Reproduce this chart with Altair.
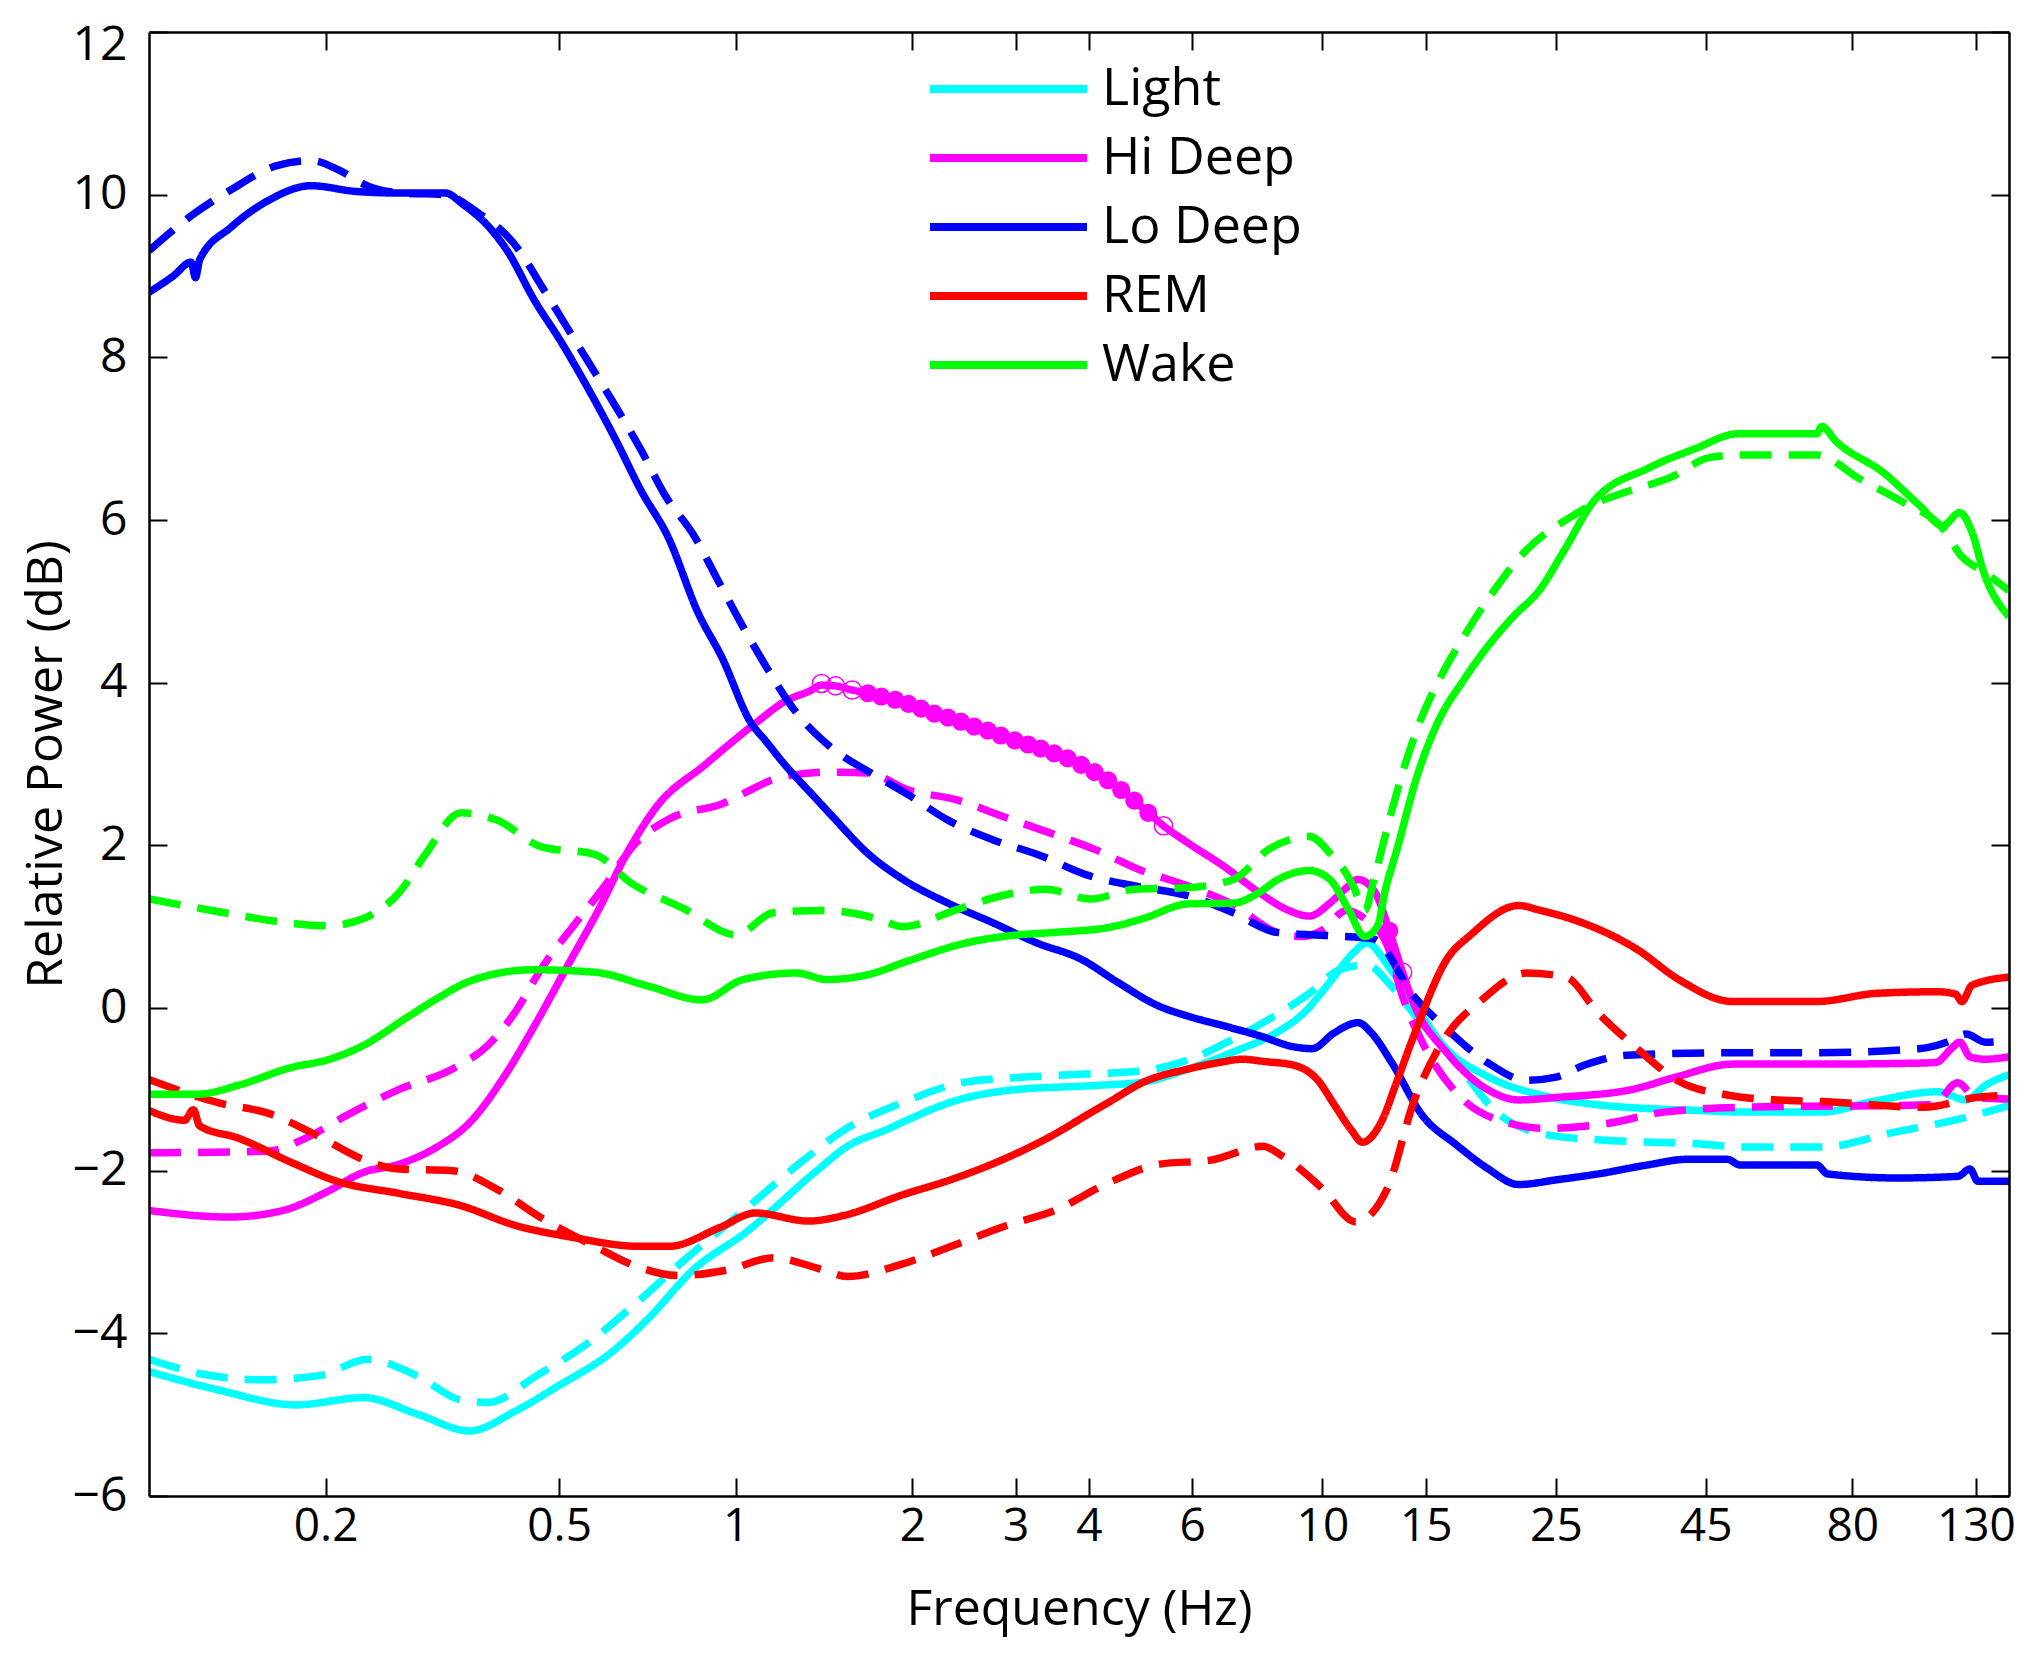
import altair as alt
import pandas as pd

stages = ["Light", "Hi Deep", "Lo Deep", "REM", "Wake"]
colors = ["#00ffff", "#ff00ff", "#0000ff", "#ff0000", "#00ff00"]
x_ticks = [0.2, 0.5, 1, 2, 3, 4, 6, 10, 15, 25, 45, 80, 130]
y_ticks = [-6, -4, -2, 0, 2, 4, 6, 8, 10, 12]

light_solid_f = [0.1, 0.132, 0.178, 0.232, 0.286, 0.352, 0.42, 0.5, 0.615, 0.709, 0.846, 1.04, 1.38, 1.55, 1.8, 2.0, 2.3, 2.94, 4.17, 4.96, 5.9, 7.05, 8.36, 9.3, 10.3, 11.3, 11.9, 13.0, 14.3, 16.3, 19.1, 24.2, 29.5, 43.6, 52.8, 71, 86.6, 112, 125, 135, 148]
light_solid_v = [-4.47, -4.70, -4.88, -4.79, -4.99, -5.2, -4.96, -4.64, -4.23, -3.82, -3.22, -2.76, -1.99, -1.70, -1.5, -1.35, -1.17, -1.01, -0.95, -0.91, -0.75, -0.54, -0.3, -0.06, 0.32, 0.68, 0.8, 0.5, 0.06, -0.51, -0.84, -1.09, -1.19, -1.26, -1.28, -1.28, -1.15, -1.03, -1.13, -0.95, -0.82]

light_dashed_f = [0.1, 0.123, 0.155, 0.195, 0.236, 0.286, 0.34, 0.378, 0.458, 0.565, 0.674, 0.817, 1.04, 1.29, 1.53, 1.93, 2.47, 3.5, 4.96, 5.9, 7.05, 8.1, 9.5, 10.7, 11.9, 13.0, 14.3, 16.9, 19.8, 24.2, 29.5, 43.6, 52.8, 71, 94, 121, 148]
light_dashed_v = [-4.32, -4.5, -4.57, -4.52, -4.32, -4.52, -4.82, -4.85, -4.52, -4.1, -3.64, -3.1, -2.47, -1.9, -1.5, -1.16, -0.91, -0.83, -0.77, -0.64, -0.38, -0.14, 0.18, 0.47, 0.53, 0.3, -0.07, -0.67, -1.28, -1.56, -1.62, -1.67, -1.71, -1.71, -1.53, -1.37, -1.2]

hideep_solid_f = [0.1, 0.137, 0.169, 0.201, 0.232, 0.267, 0.306, 0.353, 0.405, 0.458, 0.518, 0.587, 0.65, 0.734, 0.89, 0.993, 1.08, 1.22, 1.34, 1.4, 1.48, 1.58, 1.68, 1.9, 2.18, 2.55, 2.99, 3.5, 4.02, 4.54, 5.05, 5.36, 5.9, 6.8, 7.8, 8.7, 9.5, 10.3, 11.0, 11.5, 12.3, 13.0, 13.7, 14.3, 16.3, 19.1, 21.6, 25, 33.8, 40, 50, 70, 100, 111, 118, 122, 127, 135, 148]
hideep_solid_v = [-2.49, -2.57, -2.49, -2.26, -2.02, -1.92, -1.73, -1.4, -0.82, -0.17, 0.53, 1.24, 1.88, 2.48, 3.0, 3.29, 3.5, 3.78, 3.9, 3.97, 3.96, 3.91, 3.87, 3.77, 3.62, 3.46, 3.29, 3.13, 2.93, 2.68, 2.4, 2.24, 2.03, 1.74, 1.42, 1.21, 1.13, 1.29, 1.48, 1.58, 1.42, 0.95, 0.44, 0.06, -0.55, -1.0, -1.13, -1.1, -1.0, -0.85, -0.69, -0.69, -0.68, -0.67, -0.5, -0.42, -0.6, -0.63, -0.6]

hideep_dashed_f = [0.1, 0.159, 0.185, 0.216, 0.267, 0.329, 0.378, 0.42, 0.466, 0.537, 0.595, 0.674, 0.773, 0.939, 1.2, 1.45, 1.68, 1.97, 2.38, 2.84, 3.44, 4.09, 4.88, 5.9, 7.05, 8.36, 9.3, 10.0, 11.0, 11.8, 12.9, 13.7, 14.8, 16.9, 19.8, 24.2, 30.6, 38.2, 52.8, 110, 121, 130, 148]
hideep_dashed_v = [-1.78, -1.76, -1.6, -1.33, -1.0, -0.75, -0.46, -0.06, 0.48, 1.07, 1.48, 2.02, 2.33, 2.5, 2.84, 2.9, 2.89, 2.68, 2.56, 2.36, 2.15, 1.95, 1.7, 1.5, 1.27, 0.93, 0.88, 0.96, 1.2, 1.1, 0.77, 0.14, -0.42, -1.04, -1.37, -1.48, -1.42, -1.28, -1.22, -1.19, -0.92, -1.1, -1.12]

lodeep_solid_f = [0.1, 0.11, 0.118, 0.12, 0.122, 0.138, 0.159, 0.189, 0.225, 0.268, 0.32, 0.343, 0.38, 0.408, 0.454, 0.504, 0.56, 0.622, 0.69, 0.767, 0.864, 0.946, 1.063, 1.12, 1.21, 1.36, 1.46, 1.68, 1.93, 2.3, 2.74, 3.26, 3.88, 4.47, 5.24, 5.9, 6.8, 7.8, 8.98, 9.6, 10.5, 11.5, 12.1, 13.1, 14.8, 16.9, 19.1, 21.6, 25.2, 29.5, 35.8, 41.9, 49, 51.5, 69.6, 72.6, 95.7, 121, 127, 131, 148]
lodeep_solid_v = [8.8, 9.0, 9.17, 8.98, 9.2, 9.6, 9.92, 10.11, 10.04, 10.02, 10.02, 9.88, 9.6, 9.31, 8.7, 8.19, 7.62, 7.01, 6.36, 5.79, 4.85, 4.32, 3.5, 3.3, 3.0, 2.6, 2.36, 1.9, 1.58, 1.29, 1.05, 0.8, 0.6, 0.32, 0.03, -0.1, -0.22, -0.34, -0.48, -0.5, -0.3, -0.18, -0.3, -0.66, -1.32, -1.68, -1.97, -2.17, -2.11, -2.04, -1.93, -1.86, -1.86, -1.93, -1.93, -2.04, -2.09, -2.07, -1.98, -2.13, -2.13]

lodeep_dashed_f = [0.1, 0.118, 0.138, 0.164, 0.189, 0.211, 0.237, 0.27, 0.32, 0.36, 0.423, 0.47, 0.53, 0.6, 0.631, 0.691, 0.757, 0.852, 0.934, 1.023, 1.12, 1.26, 1.45, 1.7, 1.97, 2.3, 2.74, 3.32, 3.95, 4.79, 5.9, 7.05, 8.36, 10.2, 12.2, 14.3, 16.3, 19.1, 22.3, 25, 28, 33, 50, 70, 104, 118, 125, 135, 148]
lodeep_dashed_v = [9.31, 9.74, 10.06, 10.35, 10.42, 10.3, 10.1, 10.02, 10.0, 9.8, 9.36, 8.84, 8.23, 7.6, 7.34, 6.85, 6.31, 5.79, 5.25, 4.72, 4.23, 3.66, 3.21, 2.89, 2.62, 2.31, 2.07, 1.87, 1.64, 1.5, 1.38, 1.17, 0.93, 0.89, 0.85, 0.15, -0.26, -0.67, -0.89, -0.85, -0.7, -0.58, -0.55, -0.55, -0.5, -0.4, -0.32, -0.42, -0.4]

rem_solid_f = [0.1, 0.115, 0.119, 0.122, 0.142, 0.175, 0.209, 0.267, 0.34, 0.42, 0.527, 0.684, 0.77, 0.939, 1.08, 1.33, 1.53, 1.92, 2.35, 2.88, 3.5, 4.0, 4.32, 4.96, 5.9, 6.67, 7.3, 8.0, 8.9, 9.8, 10.5, 11.2, 11.7, 12.6, 13.4, 14.3, 16.3, 17.9, 21.6, 23.5, 26.7, 34.4, 40.5, 50, 69.6, 88, 112, 120, 123, 128, 148]
rem_solid_v = [-1.26, -1.38, -1.25, -1.45, -1.6, -1.9, -2.13, -2.28, -2.43, -2.67, -2.82, -2.93, -2.93, -2.7, -2.52, -2.62, -2.55, -2.3, -2.1, -1.85, -1.55, -1.3, -1.16, -0.91, -0.75, -0.67, -0.63, -0.66, -0.7, -0.88, -1.2, -1.5, -1.65, -1.4, -0.9, -0.35, 0.6, 0.9, 1.26, 1.2, 1.09, 0.72, 0.35, 0.08, 0.08, 0.18, 0.2, 0.17, 0.08, 0.28, 0.38]

rem_dashed_f = [0.1, 0.132, 0.159, 0.195, 0.228, 0.267, 0.329, 0.392, 0.466, 0.575, 0.674, 0.8, 0.97, 1.16, 1.38, 1.55, 1.92, 2.35, 2.88, 3.52, 4.32, 5.28, 6.46, 7.93, 8.5, 10.0, 11.4, 12.9, 14.3, 16.0, 18.7, 22.3, 26, 29.5, 34.4, 40.5, 49, 59.5, 71, 106, 130, 148]
rem_dashed_v = [-0.88, -1.17, -1.29, -1.58, -1.84, -1.98, -2.0, -2.23, -2.58, -2.93, -3.17, -3.29, -3.22, -3.07, -3.2, -3.3, -3.15, -2.92, -2.68, -2.48, -2.15, -1.92, -1.87, -1.7, -1.81, -2.22, -2.63, -2.22, -1.16, -0.42, 0.1, 0.43, 0.38, -0.06, -0.5, -0.9, -1.07, -1.13, -1.15, -1.22, -1.1, -1.07]

wake_solid_f = [0.1, 0.121, 0.142, 0.175, 0.201, 0.232, 0.276, 0.312, 0.352, 0.451, 0.575, 0.709, 0.876, 1.03, 1.27, 1.43, 1.68, 1.97, 2.47, 2.94, 3.5, 4.32, 4.95, 5.9, 7.05, 7.8, 8.4, 9.5, 10.3, 11.1, 11.8, 12.4, 12.8, 13.4, 14.5, 15.7, 17.4, 19.3, 21.2, 23.4, 25.8, 29, 36, 43.3, 51, 69.6, 71, 75, 90.5, 104.5, 114, 122, 128, 134, 148]
wake_solid_v = [-1.06, -1.06, -0.95, -0.73, -0.64, -0.46, -0.11, 0.13, 0.33, 0.47, 0.44, 0.27, 0.1, 0.35, 0.43, 0.35, 0.41, 0.58, 0.8, 0.89, 0.93, 0.99, 1.1, 1.28, 1.29, 1.42, 1.58, 1.69, 1.58, 1.2, 0.88, 1.0, 1.45, 1.95, 2.85, 3.5, 4.03, 4.48, 4.82, 5.13, 5.62, 6.23, 6.64, 6.88, 7.06, 7.06, 7.15, 6.97, 6.58, 6.17, 5.93, 6.09, 5.85, 5.36, 4.81]

wake_dashed_f = [0.1, 0.13, 0.163, 0.201, 0.232, 0.267, 0.296, 0.34, 0.392, 0.467, 0.575, 0.662, 0.817, 1.0, 1.16, 1.41, 1.74, 1.93, 2.38, 2.84, 3.38, 4.02, 4.79, 5.9, 7.05, 8.1, 9.5, 10.5, 10.9, 11.3, 11.8, 12.3, 13.1, 13.8, 14.7, 15.9, 17.4, 19.6, 22.2, 26.4, 28.5, 32.8, 39.4, 45.8, 52, 69.6, 82.6, 97.6, 114, 123, 135, 148]
wake_dashed_v = [1.34, 1.19, 1.07, 1.01, 1.1, 1.42, 1.89, 2.4, 2.31, 1.98, 1.89, 1.54, 1.22, 0.9, 1.17, 1.2, 1.1, 1.0, 1.21, 1.38, 1.46, 1.34, 1.46, 1.48, 1.58, 1.95, 2.11, 1.83, 1.69, 1.49, 1.2, 1.64, 2.4, 2.97, 3.54, 4.07, 4.56, 5.13, 5.62, 6.03, 6.17, 6.34, 6.53, 6.77, 6.8, 6.8, 6.5, 6.22, 5.9, 5.55, 5.35, 5.13]

# significance markers on the Hi Deep (solid) curve
hd_sig_f = [1.68, 1.77, 1.87, 1.97, 2.07, 2.18, 2.30, 2.42, 2.55, 2.69, 2.83, 2.99, 3.15, 3.31, 3.49, 3.68, 3.88, 4.09, 4.31, 4.54, 4.78, 5.05, 13.0]
hd_sig_v = [3.87, 3.83, 3.79, 3.74, 3.68, 3.62, 3.57, 3.52, 3.46, 3.41, 3.35, 3.29, 3.24, 3.19, 3.13, 3.07, 2.99, 2.9, 2.8, 2.68, 2.55, 2.4, 0.95]
hd_open_f = [1.40, 1.48, 1.58, 5.36, 13.7]
hd_open_v = [3.99, 3.96, 3.91, 2.24, 0.44]

series = [
    ("Light", "solid", light_solid_f, light_solid_v),
    ("Light", "dashed", light_dashed_f, light_dashed_v),
    ("Hi Deep", "solid", hideep_solid_f, hideep_solid_v),
    ("Hi Deep", "dashed", hideep_dashed_f, hideep_dashed_v),
    ("Lo Deep", "solid", lodeep_solid_f, lodeep_solid_v),
    ("Lo Deep", "dashed", lodeep_dashed_f, lodeep_dashed_v),
    ("REM", "solid", rem_solid_f, rem_solid_v),
    ("REM", "dashed", rem_dashed_f, rem_dashed_v),
    ("Wake", "solid", wake_solid_f, wake_solid_v),
    ("Wake", "dashed", wake_dashed_f, wake_dashed_v),
]
rows = []
for stage, cond, fs, vs in series:
    for i, (f, v) in enumerate(zip(fs, vs)):
        rows.append({"stage": stage, "cond": cond, "series": stage + "|" + cond, "f": f, "v": v, "i": i})
df = pd.DataFrame(rows)
sig_df = pd.DataFrame({"f": hd_sig_f, "v": hd_sig_v})
open_df = pd.DataFrame({"f": hd_open_f, "v": hd_open_v})

W, H = 1860, 1464
FONT = "Open Sans"
xscale = alt.Scale(type="log", domain=[0.1, 148], nice=False)
yscale = alt.Scale(domain=[-6, 12], nice=False, zero=False)

lines = alt.Chart(df).mark_line(strokeWidth=7.5, interpolate="monotone", clip=True).encode(
    x=alt.X("f:Q", scale=xscale, axis=alt.Axis(
        orient="bottom", values=x_ticks, format="~g", ticks=False, tickSize=0,
        labelPadding=8, labelFontSize=46, labelFont=FONT, labelColor="black",
        labelFlush=False, labelOverlap=False, grid=False, domain=True,
        domainColor="black", domainWidth=2.5, title="Frequency (Hz)",
        titleFont=FONT, titleFontSize=50, titleFontWeight="normal",
        titleColor="black", titlePadding=35, zindex=1)),
    y=alt.Y("v:Q", scale=yscale, axis=alt.Axis(
        orient="left", values=y_ticks[:-1], ticks=False, tickSize=0,
        labelPadding=22, labelFontSize=48, labelFont=FONT, labelColor="black",
        labelFlush=False, labelOverlap=False, grid=False, domain=True,
        domainColor="black", domainWidth=2.5, title="Relative Power (dB)",
        titleFont=FONT, titleFontSize=50, titleFontWeight="normal",
        titleColor="black", titlePadding=1, zindex=1)),
    color=alt.Color("stage:N", scale=alt.Scale(domain=stages, range=colors),
                    legend=alt.Legend(orient="none", legendX=777, legendY=31,
                                      direction="vertical", title=None,
                                      symbolType="stroke", symbolSize=24649,
                                      symbolStrokeWidth=8, labelFontSize=52,
                                      labelFont=FONT, labelColor="black",
                                      labelOffset=11, rowPadding=17,
                                      clipHeight=52,
                                      labelLimit=500, padding=0)),
    strokeDash=alt.StrokeDash("cond:N", scale=alt.Scale(domain=["solid", "dashed"], range=[[1, 0], [32, 17]]), legend=None),
    detail="series:N",
    order="i:Q",
)

tick_axis_x1 = alt.Axis(orient="top", offset=-H, values=x_ticks, labels=False, ticks=True,
                        tickSize=18, tickWidth=2, tickColor="black", domain=False,
                        grid=False, title=None, zindex=1)
tick_axis_y1 = alt.Axis(orient="right", offset=-W, values=y_ticks, labels=False, ticks=True,
                        tickSize=18, tickWidth=2, tickColor="black", domain=False,
                        grid=False, title=None, zindex=1)
tick_axis_x2 = alt.Axis(orient="bottom", offset=-H, values=x_ticks, labels=False, ticks=True,
                        tickSize=18, tickWidth=2, tickColor="black", domain=True,
                        domainColor="black", domainWidth=2.5,
                        grid=False, title=None, zindex=1)
tick_axis_y2 = alt.Axis(orient="left", offset=-W, values=y_ticks, labels=False, ticks=True,
                        tickSize=18, tickWidth=2, tickColor="black", domain=True,
                        domainColor="black", domainWidth=2.5,
                        grid=False, title=None, zindex=1)
# top label of the y axis, nudged down so it stays inside the page
top_label_axis = alt.Axis(orient="left", values=y_ticks[-1:], labels=True, ticks=False,
                          tickSize=0, domain=False, grid=False, title=None,
                          labelPadding=22, labelFontSize=48, labelFont=FONT,
                          labelColor="black", labelFlush=False, labelOffset=13)

filled = alt.Chart(sig_df).mark_point(shape="circle", filled=True, color="#ff00ff",
                                      size=330, opacity=1).encode(
    x=alt.X("f:Q", scale=xscale, axis=tick_axis_x1),
    y=alt.Y("v:Q", scale=yscale, axis=tick_axis_y1),
)
opened = alt.Chart(open_df).mark_point(shape="circle", filled=False, color="#ff00ff",
                                       size=330, strokeWidth=1.5, opacity=1).encode(
    x=alt.X("f:Q", scale=xscale, axis=tick_axis_x2),
    y=alt.Y("v:Q", scale=yscale, axis=tick_axis_y2),
)
top_label = alt.Chart(open_df).mark_point(opacity=0).encode(
    x=alt.X("f:Q", scale=xscale, axis=None),
    y=alt.Y("v:Q", scale=yscale, axis=top_label_axis),
)

chart = alt.layer(lines, filled, opened, top_label).resolve_axis(
    x="independent", y="independent"
).properties(
    width=W, height=H,
    autosize=alt.AutoSizeParams(type="none"),
    padding={"left": 141, "top": 24, "right": 8, "bottom": 149},
    background="white",
).configure_view(stroke=None)

chart.save("out.html", embed_options={"renderer": "svg", "actions": False})
